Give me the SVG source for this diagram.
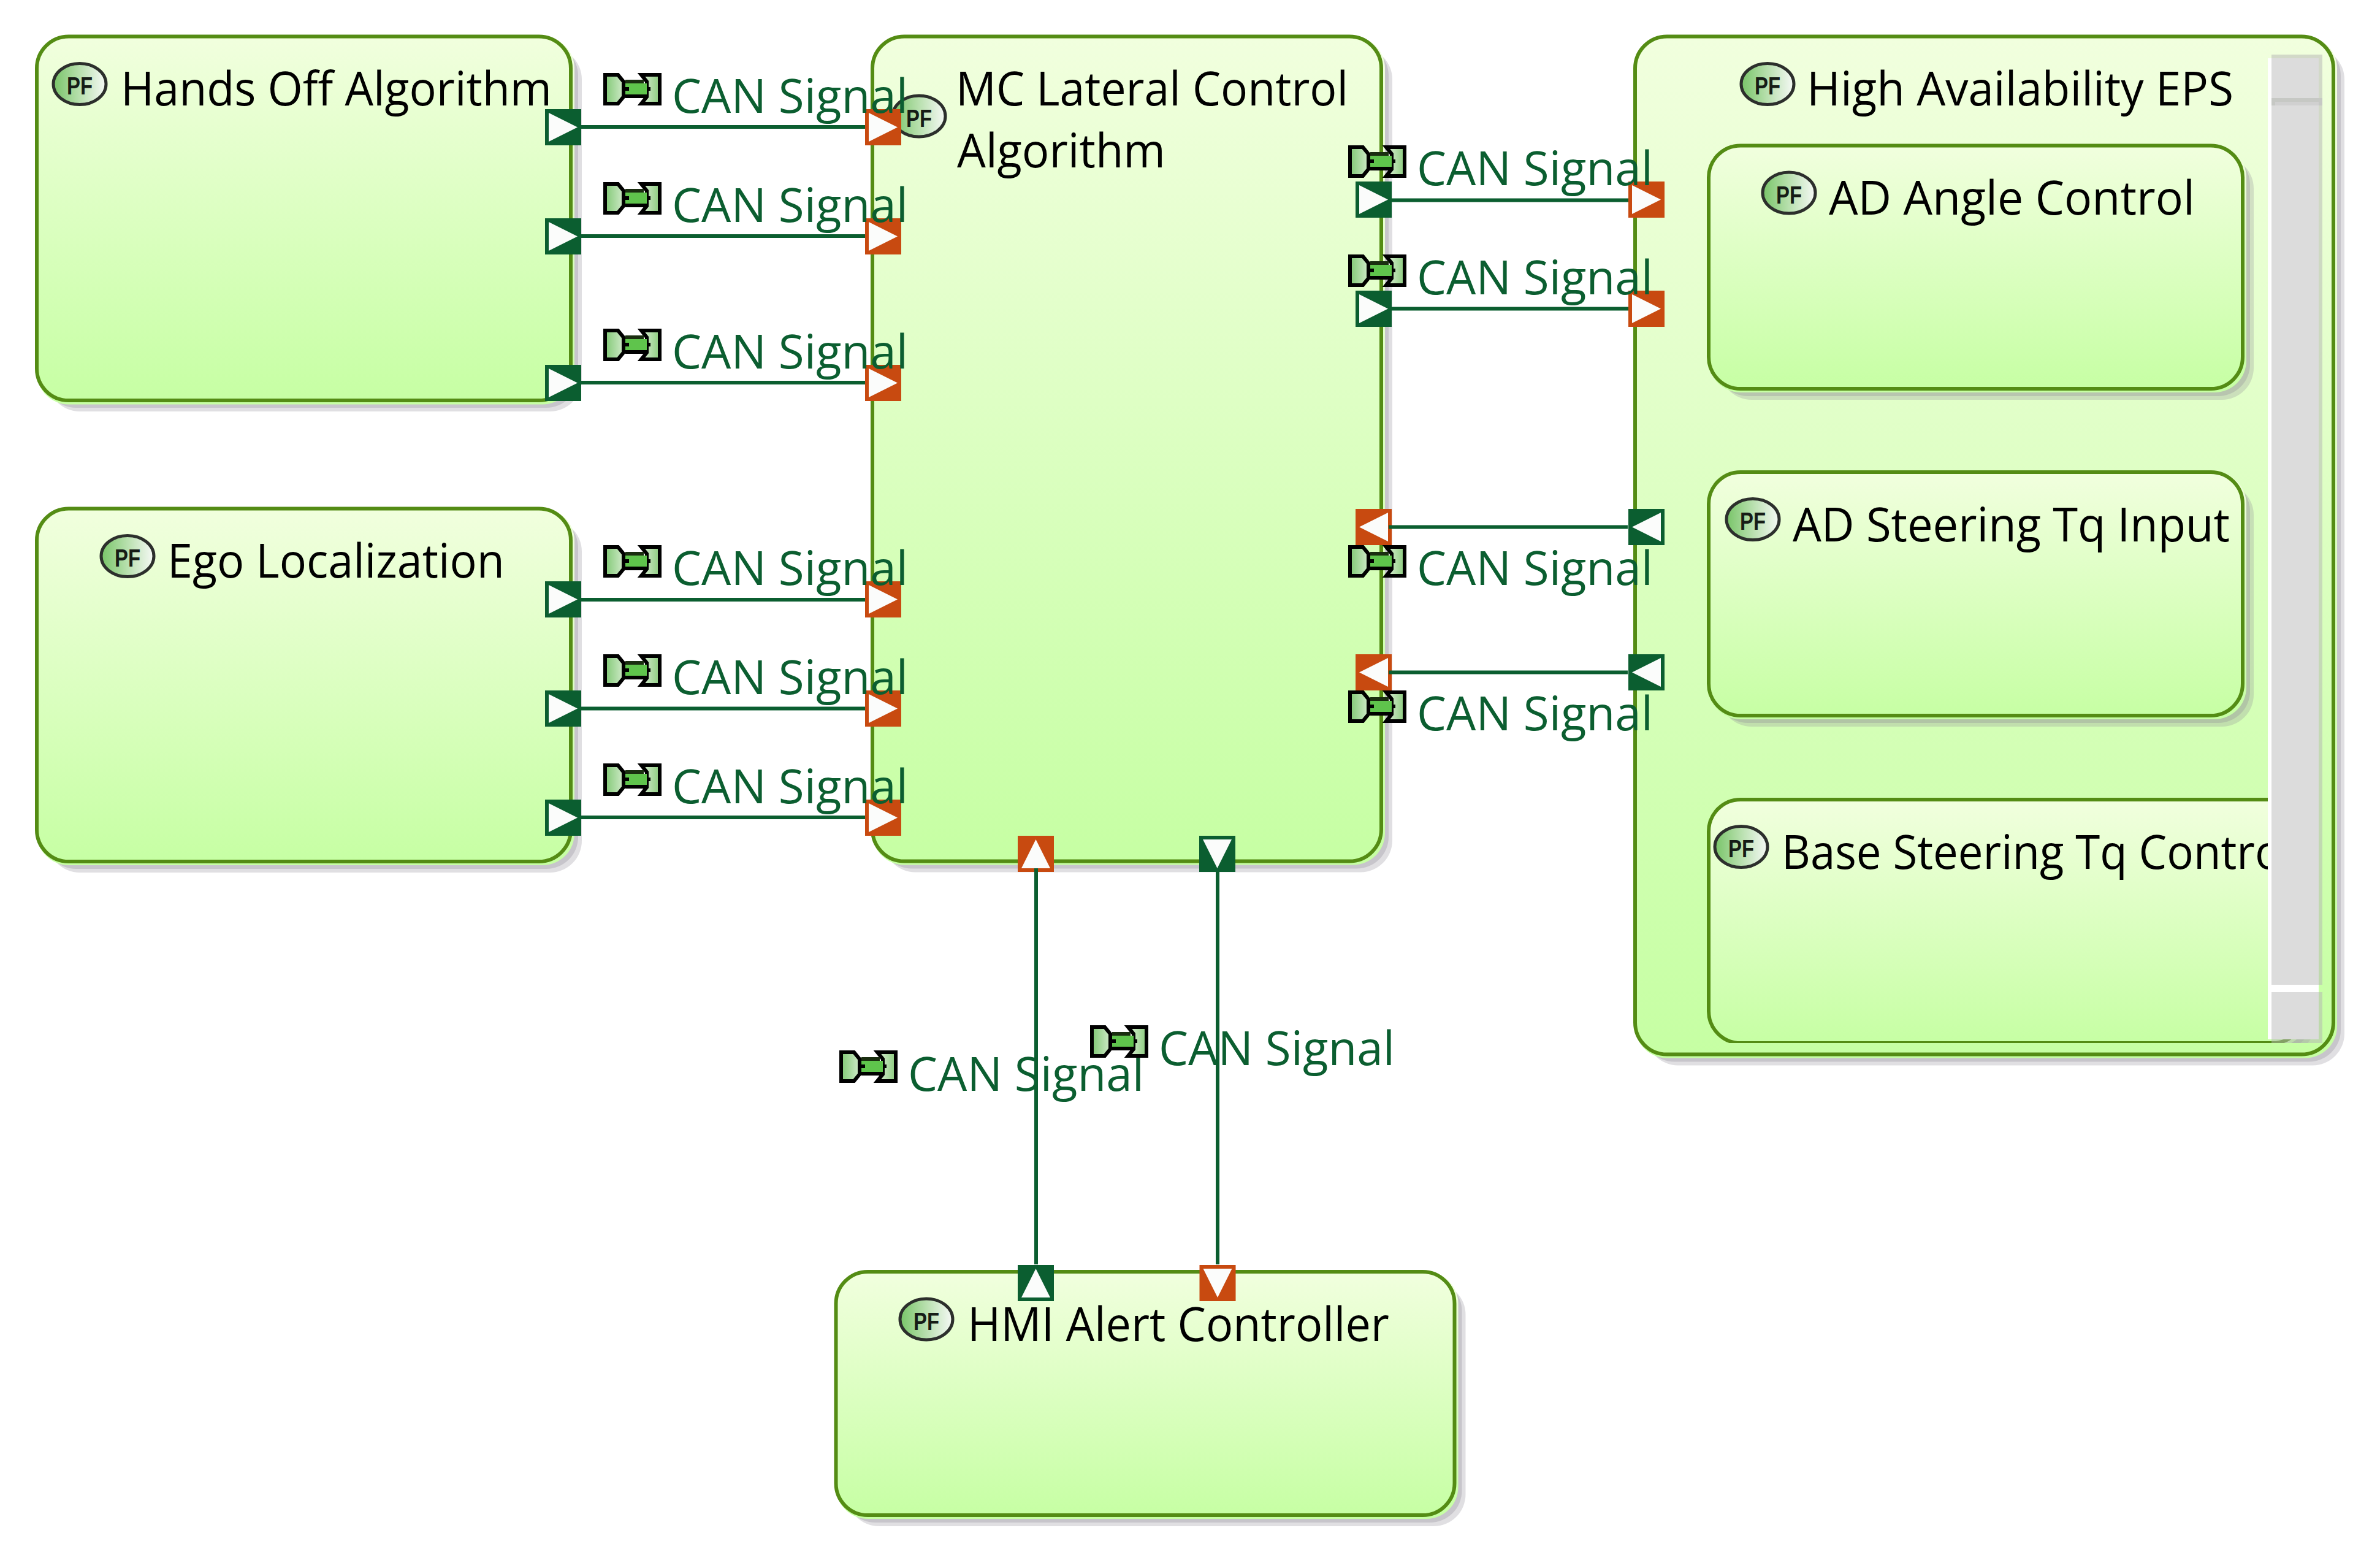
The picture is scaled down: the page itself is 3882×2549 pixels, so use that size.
<svg xmlns="http://www.w3.org/2000/svg" xmlns:xlink="http://www.w3.org/1999/xlink" width="3882" height="2549" viewBox="0 0 3882 2549">
<defs>
<style>
.s2{fill:#8f8c96;opacity:.28}
.s1{fill:#8f8c96;opacity:.3}
.fill{fill:url(#nodeGrad)}
.box{fill:none;stroke:#548c14;stroke-width:6}
.title{font-family:"Open Sans","Liberation Sans",sans-serif;font-size:76px;fill:#000}
.lbl{font-family:"Open Sans","Liberation Sans",sans-serif;font-size:76px;fill:#0b5e30}
.pft{font-family:"Liberation Sans",sans-serif;font-weight:bold;font-size:40px;fill:#161c16;text-anchor:middle}
.pg{fill:#0b5e30}
.po{fill:#c84a10}
.tri{fill:#fbfcfb}
.wire{stroke:#0b5e30;stroke-width:6;fill:none}
.sbb{fill:#b4b4b4;opacity:.5}
.sbg{fill:#dcdcdc}
.sbw{fill:#fff}
</style>
<linearGradient id="nodeGrad" x1="0" y1="0" x2="0" y2="1"><stop offset="0" stop-color="#f1ffde"/><stop offset="1" stop-color="#c6ffa3"/></linearGradient>
<linearGradient id="pfGrad" x1="0" y1="0" x2="1" y2="0"><stop offset="0" stop-color="#78c468"/><stop offset=".5" stop-color="#b8e0ae"/><stop offset="1" stop-color="#f6f9f6"/></linearGradient>
<linearGradient id="brL" x1="0" y1="0" x2="1" y2="0"><stop offset="0" stop-color="#80c874"/><stop offset="1" stop-color="#cfeac8"/></linearGradient>
<linearGradient id="brR" x1="0" y1="0" x2="1" y2="0"><stop offset="0" stop-color="#dff0da"/><stop offset="1" stop-color="#8ccc7e"/></linearGradient>
<polygon id="tri" class="tri" points="6,6 53,29.5 6,53"/>
<g id="sig">
<path d="M3 3H24L33 14V39L24 50H3Z" fill="url(#brL)" stroke="#000" stroke-width="6"/>
<path d="M92 3H62L71 14V39L62 50H92Z" fill="url(#brR)" stroke="#000" stroke-width="6"/>
<rect x="36" y="11" width="30" height="6" fill="#1a2e10"/>
<rect x="36" y="17" width="35" height="18" fill="#5fc44c"/>
<rect x="36" y="35" width="32" height="6" fill="#000"/>
<rect x="36" y="23" width="6" height="6" fill="#000"/>
<rect x="71" y="23" width="6" height="6" fill="#000"/>
</g>
<ellipse id="pf" cx="0" cy="0" rx="43" ry="33.5" fill="url(#pfGrad)" stroke="#2c2f2c" stroke-width="5"/>
<clipPath id="innerClip"><rect x="2670" y="60" width="1118" height="1641"/></clipPath>
</defs>
<rect width="3882" height="2549" fill="#fff"/>

<g id="node-hands-off">
<rect class="s2" x="78" y="77.5" width="871" height="593.5" rx="52"/>
<rect class="s1" x="72" y="71.5" width="871" height="593.5" rx="52"/>
<rect class="fill" x="60" y="59.5" width="877" height="600" rx="52"/>
<rect class="box" x="60" y="59.5" width="871" height="593.5" rx="52"/>
<use href="#pf" x="130" y="137"/><text class="pft" x="130" y="154" textLength="42" lengthAdjust="spacingAndGlyphs">PF</text>
<text class="title" x="197" y="172" textLength="703" lengthAdjust="spacingAndGlyphs">Hands Off Algorithm</text>
<rect class="pg" x="889" y="178" width="59" height="59"/><use href="#tri" x="889" y="178"/>
<rect class="pg" x="889" y="356" width="59" height="59"/><use href="#tri" x="889" y="356"/>
<rect class="pg" x="889" y="595" width="59" height="59"/><use href="#tri" x="889" y="595"/>
</g>

<g id="node-ego">
<rect class="s2" x="78" y="847.5" width="871" height="575.5" rx="52"/>
<rect class="s1" x="72" y="841.5" width="871" height="575.5" rx="52"/>
<rect class="fill" x="60" y="829.5" width="877" height="581.5" rx="52"/>
<rect class="box" x="60" y="829.5" width="871" height="575.5" rx="52"/>
<use href="#pf" x="208" y="907"/><text class="pft" x="208" y="924" textLength="42" lengthAdjust="spacingAndGlyphs">PF</text>
<text class="title" x="273" y="942" textLength="550" lengthAdjust="spacingAndGlyphs">Ego Localization</text>
<rect class="pg" x="889" y="948" width="59" height="59"/><use href="#tri" x="889" y="948"/>
<rect class="pg" x="889" y="1126" width="59" height="59"/><use href="#tri" x="889" y="1126"/>
<rect class="pg" x="889" y="1304" width="59" height="59"/><use href="#tri" x="889" y="1304"/>
</g>

<g id="node-mc-lateral">
<rect class="s2" x="1441" y="77.5" width="830" height="1345" rx="52"/>
<rect class="s1" x="1435" y="71.5" width="830" height="1345" rx="52"/>
<rect class="fill" x="1423" y="59.5" width="836" height="1351" rx="52"/>
<rect class="box" x="1423" y="59.5" width="830" height="1345" rx="52"/>
<use href="#pf" x="1499" y="189.5"/><text class="pft" x="1499" y="206.5" textLength="42" lengthAdjust="spacingAndGlyphs">PF</text>
<text class="title" x="1559" y="172" textLength="640" lengthAdjust="spacingAndGlyphs">MC Lateral Control</text>
<text class="title" x="1561" y="273" textLength="340" lengthAdjust="spacingAndGlyphs">Algorithm</text>
<rect class="po" x="1411" y="178" width="59" height="59"/><use href="#tri" x="1411" y="178"/>
<rect class="po" x="1411" y="356" width="59" height="59"/><use href="#tri" x="1411" y="356"/>
<rect class="po" x="1411" y="595" width="59" height="59"/><use href="#tri" x="1411" y="595"/>
<rect class="po" x="1411" y="948" width="59" height="59"/><use href="#tri" x="1411" y="948"/>
<rect class="po" x="1411" y="1126" width="59" height="59"/><use href="#tri" x="1411" y="1126"/>
<rect class="po" x="1411" y="1304" width="59" height="59"/><use href="#tri" x="1411" y="1304"/>
<rect class="pg" x="2211" y="296" width="59" height="59"/><use href="#tri" x="2211" y="296"/>
<rect class="pg" x="2211" y="474" width="59" height="59"/><use href="#tri" x="2211" y="474"/>
<rect class="po" x="2211" y="830" width="59" height="59"/><use href="#tri" transform="translate(2211 830) rotate(180 29.5 29.5)"/>
<rect class="po" x="2211" y="1067" width="59" height="59"/><use href="#tri" transform="translate(2211 1067) rotate(180 29.5 29.5)"/>
<rect class="po" x="1660" y="1363" width="59" height="59"/><use href="#tri" transform="translate(1660 1363) rotate(-90 29.5 29.5)"/>
<rect class="pg" x="1956" y="1363" width="59" height="59"/><use href="#tri" transform="translate(1956 1363) rotate(90 29.5 29.5)"/>
</g>

<g id="node-high-availability-eps">
<rect class="s2" x="2685" y="77.5" width="1139" height="1660" rx="52"/>
<rect class="s1" x="2679" y="71.5" width="1139" height="1660" rx="52"/>
<rect class="fill" x="2667" y="59.5" width="1145" height="1666" rx="52"/>
<rect class="box" x="2667" y="59.5" width="1139" height="1660" rx="52"/>
<use href="#pf" x="2883" y="137"/><text class="pft" x="2883" y="154" textLength="42" lengthAdjust="spacingAndGlyphs">PF</text>
<text class="title" x="2947" y="172" textLength="696" lengthAdjust="spacingAndGlyphs">High Availability EPS</text>
<rect class="po" x="2656" y="296" width="59" height="59"/><use href="#tri" x="2656" y="296"/>
<rect class="po" x="2656" y="474" width="59" height="59"/><use href="#tri" x="2656" y="474"/>
<rect class="pg" x="2656" y="830" width="59" height="59"/><use href="#tri" transform="translate(2656 830) rotate(180 29.5 29.5)"/>
<rect class="pg" x="2656" y="1067" width="59" height="59"/><use href="#tri" transform="translate(2656 1067) rotate(180 29.5 29.5)"/>
</g>

<g id="node-ad-angle-control">
<rect class="s2" x="2805" y="255.5" width="871" height="396.5" rx="52"/>
<rect class="s1" x="2799" y="249.5" width="871" height="396.5" rx="52"/>
<rect class="fill" x="2787" y="237.5" width="877" height="402.5" rx="52"/>
<rect class="box" x="2787" y="237.5" width="871" height="396.5" rx="52"/>
<use href="#pf" x="2918" y="314.5"/><text class="pft" x="2918" y="331.5" textLength="42" lengthAdjust="spacingAndGlyphs">PF</text>
<text class="title" x="2983" y="350" textLength="597" lengthAdjust="spacingAndGlyphs">AD Angle Control</text>
</g>

<g id="node-ad-steering-tq-input">
<rect class="s2" x="2805" y="788" width="871" height="397" rx="52"/>
<rect class="s1" x="2799" y="782" width="871" height="397" rx="52"/>
<rect class="fill" x="2787" y="770" width="877" height="403" rx="52"/>
<rect class="box" x="2787" y="770" width="871" height="397" rx="52"/>
<use href="#pf" x="2859" y="847"/><text class="pft" x="2859" y="864" textLength="42" lengthAdjust="spacingAndGlyphs">PF</text>
<text class="title" x="2924" y="882.5" textLength="713" lengthAdjust="spacingAndGlyphs">AD Steering Tq Input</text>
</g>

<g id="node-base-steering-tq-control" clip-path="url(#innerClip)">
<rect class="s2" x="2805" y="1322" width="972" height="397" rx="52"/>
<rect class="s1" x="2799" y="1316" width="972" height="397" rx="52"/>
<rect class="fill" x="2787" y="1304" width="978" height="403" rx="52"/>
<rect class="box" x="2787" y="1304" width="972" height="397" rx="52"/>
<use href="#pf" x="2840" y="1381"/><text class="pft" x="2840" y="1398" textLength="42" lengthAdjust="spacingAndGlyphs">PF</text>
<text class="title" x="2906" y="1417" textLength="834" lengthAdjust="spacingAndGlyphs">Base Steering Tq Control</text>
</g>

<g id="scrollbar">
<rect class="sbb" x="3705" y="89" width="83" height="6"/>
<rect class="sbb" x="3782" y="95" width="6" height="1511"/>
<rect class="sbb" x="3782" y="1618" width="6" height="83"/>
<rect class="sbb" x="3705" y="1695" width="77" height="6"/>
<rect class="sbw" x="3699" y="95" width="6" height="1600"/>
<rect class="sbw" x="3705" y="1606" width="77" height="12"/>
<rect class="sbg" x="3705" y="95" width="77" height="1511"/>
<rect class="sbg" x="3705" y="1618" width="77" height="77"/>
<rect x="3705" y="160" width="83" height="12" fill="#c6c8c4"/>
<rect x="3711" y="166" width="71" height="6" fill="#d0d0d0"/>
</g>

<g id="node-hmi-alert-controller">
<rect class="s2" x="1381.5" y="2092" width="1009" height="397" rx="52"/>
<rect class="s1" x="1375.5" y="2086" width="1009" height="397" rx="52"/>
<rect class="fill" x="1363.5" y="2074" width="1015" height="403" rx="52"/>
<rect class="box" x="1363.5" y="2074" width="1009" height="397" rx="52"/>
<use href="#pf" x="1511" y="2151.5"/><text class="pft" x="1511" y="2168.5" textLength="42" lengthAdjust="spacingAndGlyphs">PF</text>
<text class="title" x="1578" y="2187" textLength="688" lengthAdjust="spacingAndGlyphs">HMI Alert Controller</text>
<rect class="pg" x="1660" y="2063" width="59" height="59"/><use href="#tri" transform="translate(1660 2063) rotate(-90 29.5 29.5)"/>
<rect class="po" x="1956.5" y="2063" width="59" height="59"/><use href="#tri" transform="translate(1956.5 2063) rotate(90 29.5 29.5)"/>
</g>

<g id="connectors">
<line class="wire" x1="948" y1="207" x2="1411" y2="207"/>
<line class="wire" x1="948" y1="385" x2="1411" y2="385"/>
<line class="wire" x1="948" y1="624" x2="1411" y2="624"/>
<line class="wire" x1="948" y1="978" x2="1411" y2="978"/>
<line class="wire" x1="948" y1="1155.5" x2="1411" y2="1155.5"/>
<line class="wire" x1="948" y1="1333" x2="1411" y2="1333"/>
<line class="wire" x1="2270" y1="326.5" x2="2656" y2="326.5"/>
<line class="wire" x1="2270" y1="503.5" x2="2656" y2="503.5"/>
<line class="wire" x1="2265" y1="859.5" x2="2655" y2="859.5"/>
<line class="wire" x1="2265" y1="1096.5" x2="2655" y2="1096.5"/>
<line class="wire" x1="1690" y1="1416" x2="1690" y2="2062"/>
<line class="wire" x1="1986" y1="1422" x2="1986" y2="2062"/>
</g>

<g id="connector-labels">
<use href="#sig" x="984" y="119"/><text class="lbl" x="1096" y="183.5" textLength="385" lengthAdjust="spacingAndGlyphs">CAN Signal</text>
<use href="#sig" x="984" y="297"/><text class="lbl" x="1096" y="361.5" textLength="385" lengthAdjust="spacingAndGlyphs">CAN Signal</text>
<use href="#sig" x="984" y="536"/><text class="lbl" x="1096" y="600.5" textLength="385" lengthAdjust="spacingAndGlyphs">CAN Signal</text>
<use href="#sig" x="984" y="889"/><text class="lbl" x="1096" y="953.5" textLength="385" lengthAdjust="spacingAndGlyphs">CAN Signal</text>
<use href="#sig" x="984" y="1067"/><text class="lbl" x="1096" y="1131.5" textLength="385" lengthAdjust="spacingAndGlyphs">CAN Signal</text>
<use href="#sig" x="984" y="1245"/><text class="lbl" x="1096" y="1309.5" textLength="385" lengthAdjust="spacingAndGlyphs">CAN Signal</text>
<use href="#sig" x="2199" y="237"/><text class="lbl" x="2311" y="301.5" textLength="385" lengthAdjust="spacingAndGlyphs">CAN Signal</text>
<use href="#sig" x="2199" y="415"/><text class="lbl" x="2311" y="479.5" textLength="385" lengthAdjust="spacingAndGlyphs">CAN Signal</text>
<use href="#sig" x="2199" y="889"/><text class="lbl" x="2311" y="953.5" textLength="385" lengthAdjust="spacingAndGlyphs">CAN Signal</text>
<use href="#sig" x="2199" y="1126"/><text class="lbl" x="2311" y="1191" textLength="385" lengthAdjust="spacingAndGlyphs">CAN Signal</text>
<use href="#sig" x="1369" y="1713"/><text class="lbl" x="1481" y="1779" textLength="385" lengthAdjust="spacingAndGlyphs">CAN Signal</text>
<use href="#sig" x="1778" y="1672"/><text class="lbl" x="1890" y="1737" textLength="385" lengthAdjust="spacingAndGlyphs">CAN Signal</text>
</g>
</svg>
